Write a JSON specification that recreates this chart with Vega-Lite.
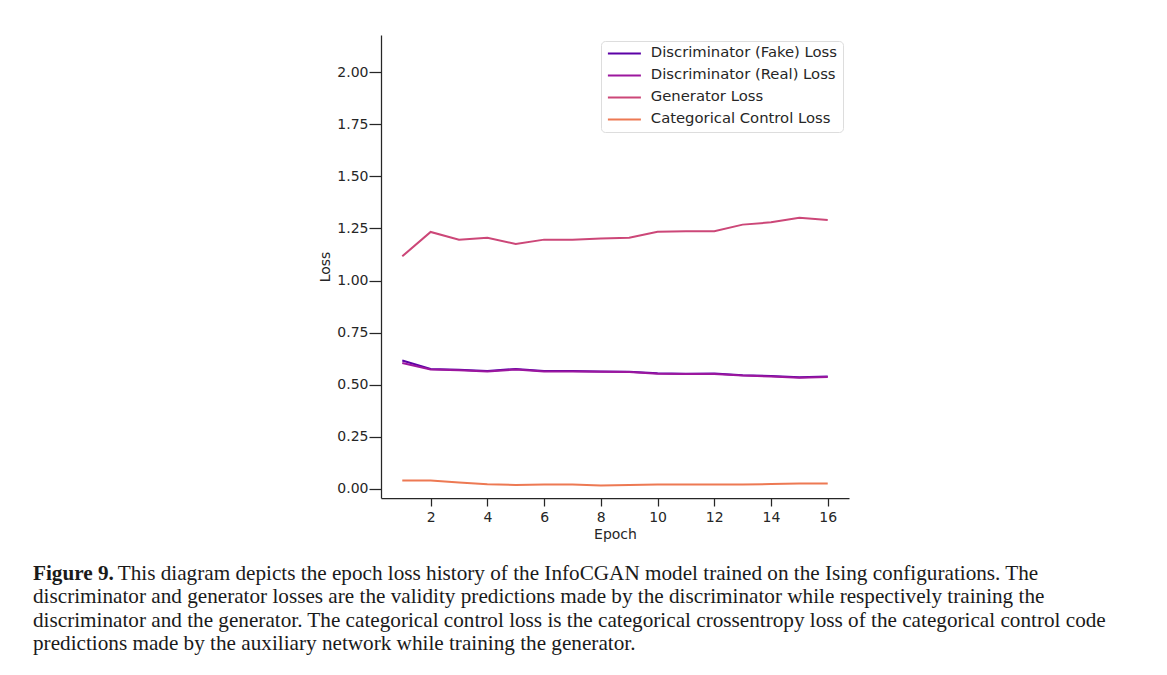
{
  "$schema": "https://vega.github.io/schema/vega-lite/v6.json",
  "width": 468,
  "height": 463,
  "autosize": "none",
  "padding": {"left": 381, "top": 35, "right": 318, "bottom": 177},
  "background": "white",
  "title": {
    "text": "Figure 9.",
    "subtitle": [
      "\u200b\u00a0\u00a0\u00a0\u00a0\u00a0\u00a0\u00a0\u00a0\u00a0\u00a0\u00a0\u00a0\u00a0\u00a0\u00a0\u00a0This diagram depicts the epoch loss history of the InfoCGAN model trained on the Ising configurations. The",
      "discriminator and generator losses are the validity predictions made by the discriminator while respectively training the",
      "discriminator and the generator. The categorical control loss is the categorical crossentropy loss of the categorical control code",
      "predictions made by the auxiliary network while training the generator."
    ],
    "orient": "bottom",
    "anchor": "start",
    "frame": "group",
    "dx": -348,
    "offset": 22,
    "font": "Liberation Serif",
    "fontSize": 21.2,
    "fontWeight": "bold",
    "color": "#1a1a1a",
    "subtitleFont": "Liberation Serif",
    "subtitleFontSize": 21.2,
    "subtitleFontWeight": "normal",
    "subtitleColor": "#1a1a1a",
    "subtitleLineHeight": 23.3,
    "subtitlePadding": -21.2
  },
  "data": {
    "values": [
      {"epoch": 1, "series": "Discriminator (Fake) Loss", "loss": 0.616},
      {"epoch": 2, "series": "Discriminator (Fake) Loss", "loss": 0.576},
      {"epoch": 3, "series": "Discriminator (Fake) Loss", "loss": 0.572},
      {"epoch": 4, "series": "Discriminator (Fake) Loss", "loss": 0.566},
      {"epoch": 5, "series": "Discriminator (Fake) Loss", "loss": 0.576},
      {"epoch": 6, "series": "Discriminator (Fake) Loss", "loss": 0.566},
      {"epoch": 7, "series": "Discriminator (Fake) Loss", "loss": 0.566},
      {"epoch": 8, "series": "Discriminator (Fake) Loss", "loss": 0.564},
      {"epoch": 9, "series": "Discriminator (Fake) Loss", "loss": 0.562},
      {"epoch": 10, "series": "Discriminator (Fake) Loss", "loss": 0.555},
      {"epoch": 11, "series": "Discriminator (Fake) Loss", "loss": 0.553},
      {"epoch": 12, "series": "Discriminator (Fake) Loss", "loss": 0.554},
      {"epoch": 13, "series": "Discriminator (Fake) Loss", "loss": 0.545},
      {"epoch": 14, "series": "Discriminator (Fake) Loss", "loss": 0.542},
      {"epoch": 15, "series": "Discriminator (Fake) Loss", "loss": 0.536},
      {"epoch": 16, "series": "Discriminator (Fake) Loss", "loss": 0.539},
      {"epoch": 1, "series": "Discriminator (Real) Loss", "loss": 0.604},
      {"epoch": 2, "series": "Discriminator (Real) Loss", "loss": 0.573},
      {"epoch": 3, "series": "Discriminator (Real) Loss", "loss": 0.570},
      {"epoch": 4, "series": "Discriminator (Real) Loss", "loss": 0.564},
      {"epoch": 5, "series": "Discriminator (Real) Loss", "loss": 0.573},
      {"epoch": 6, "series": "Discriminator (Real) Loss", "loss": 0.564},
      {"epoch": 7, "series": "Discriminator (Real) Loss", "loss": 0.564},
      {"epoch": 8, "series": "Discriminator (Real) Loss", "loss": 0.562},
      {"epoch": 9, "series": "Discriminator (Real) Loss", "loss": 0.561},
      {"epoch": 10, "series": "Discriminator (Real) Loss", "loss": 0.553},
      {"epoch": 11, "series": "Discriminator (Real) Loss", "loss": 0.552},
      {"epoch": 12, "series": "Discriminator (Real) Loss", "loss": 0.552},
      {"epoch": 13, "series": "Discriminator (Real) Loss", "loss": 0.544},
      {"epoch": 14, "series": "Discriminator (Real) Loss", "loss": 0.540},
      {"epoch": 15, "series": "Discriminator (Real) Loss", "loss": 0.534},
      {"epoch": 16, "series": "Discriminator (Real) Loss", "loss": 0.537},
      {"epoch": 1, "series": "Generator Loss", "loss": 1.116},
      {"epoch": 2, "series": "Generator Loss", "loss": 1.233},
      {"epoch": 3, "series": "Generator Loss", "loss": 1.196},
      {"epoch": 4, "series": "Generator Loss", "loss": 1.205},
      {"epoch": 5, "series": "Generator Loss", "loss": 1.175},
      {"epoch": 6, "series": "Generator Loss", "loss": 1.196},
      {"epoch": 7, "series": "Generator Loss", "loss": 1.196},
      {"epoch": 8, "series": "Generator Loss", "loss": 1.202},
      {"epoch": 9, "series": "Generator Loss", "loss": 1.205},
      {"epoch": 10, "series": "Generator Loss", "loss": 1.234},
      {"epoch": 11, "series": "Generator Loss", "loss": 1.236},
      {"epoch": 12, "series": "Generator Loss", "loss": 1.236},
      {"epoch": 13, "series": "Generator Loss", "loss": 1.268},
      {"epoch": 14, "series": "Generator Loss", "loss": 1.279},
      {"epoch": 15, "series": "Generator Loss", "loss": 1.301},
      {"epoch": 16, "series": "Generator Loss", "loss": 1.290},
      {"epoch": 1, "series": "Categorical Control Loss", "loss": 0.041},
      {"epoch": 2, "series": "Categorical Control Loss", "loss": 0.041},
      {"epoch": 3, "series": "Categorical Control Loss", "loss": 0.031},
      {"epoch": 4, "series": "Categorical Control Loss", "loss": 0.023},
      {"epoch": 5, "series": "Categorical Control Loss", "loss": 0.019},
      {"epoch": 6, "series": "Categorical Control Loss", "loss": 0.021},
      {"epoch": 7, "series": "Categorical Control Loss", "loss": 0.021},
      {"epoch": 8, "series": "Categorical Control Loss", "loss": 0.017},
      {"epoch": 9, "series": "Categorical Control Loss", "loss": 0.019},
      {"epoch": 10, "series": "Categorical Control Loss", "loss": 0.022},
      {"epoch": 11, "series": "Categorical Control Loss", "loss": 0.021},
      {"epoch": 12, "series": "Categorical Control Loss", "loss": 0.021},
      {"epoch": 13, "series": "Categorical Control Loss", "loss": 0.021},
      {"epoch": 14, "series": "Categorical Control Loss", "loss": 0.024},
      {"epoch": 15, "series": "Categorical Control Loss", "loss": 0.026},
      {"epoch": 16, "series": "Categorical Control Loss", "loss": 0.026}
    ]
  },
  "mark": {"type": "line", "strokeWidth": 2, "clip": false},
  "encoding": {
    "x": {
      "field": "epoch",
      "type": "quantitative",
      "scale": {"domain": [0.25, 16.75], "nice": false, "zero": false},
      "axis": {"title": "Epoch", "values": [2, 4, 6, 8, 10, 12, 14, 16], "format": "d", "tickSize": 8, "labelPadding": 4, "titlePadding": 3}
    },
    "y": {
      "field": "loss",
      "type": "quantitative",
      "scale": {"domain": [-0.0432, 2.1775], "nice": false, "zero": false},
      "axis": {"title": "Loss", "values": [0, 0.25, 0.5, 0.75, 1, 1.25, 1.5, 1.75, 2], "format": ".2f", "tickSize": 12, "labelPadding": 1, "titlePadding": 4}
    },
    "color": {
      "field": "series",
      "type": "nominal",
      "sort": ["Discriminator (Fake) Loss", "Discriminator (Real) Loss", "Generator Loss", "Categorical Control Loss"],
      "scale": {
        "domain": ["Discriminator (Fake) Loss", "Discriminator (Real) Loss", "Generator Loss", "Categorical Control Loss"],
        "range": ["#5c01a6", "#9c179e", "#cc4778", "#ed7953"]
      },
      "legend": {
        "title": null,
        "orient": "top-right",
        "offset": 6,
        "symbolType": "M-1,0H5",
        "symbolSize": 121,
        "symbolStrokeWidth": 2,
        "labelFont": "DejaVu Sans",
        "labelFontSize": 14.8,
        "labelColor": "#262626",
        "labelLimit": 300,
        "strokeColor": "#dddddd",
        "fillColor": "white",
        "cornerRadius": 4,
        "padding": 5,
        "rowPadding": 6,
        "labelOffset": 30
      }
    }
  },
  "config": {
    "view": {"stroke": null},
    "axis": {
      "grid": false,
      "domainColor": "#262626",
      "tickColor": "#262626",
      "labelColor": "#262626",
      "titleColor": "#262626",
      "labelFont": "DejaVu Sans",
      "titleFont": "DejaVu Sans",
      "labelFontSize": 14,
      "titleFontSize": 14,
      "titleFontWeight": "normal",
      "tickWidth": 1.25,
      "domainWidth": 1.25
    }
  }
}
